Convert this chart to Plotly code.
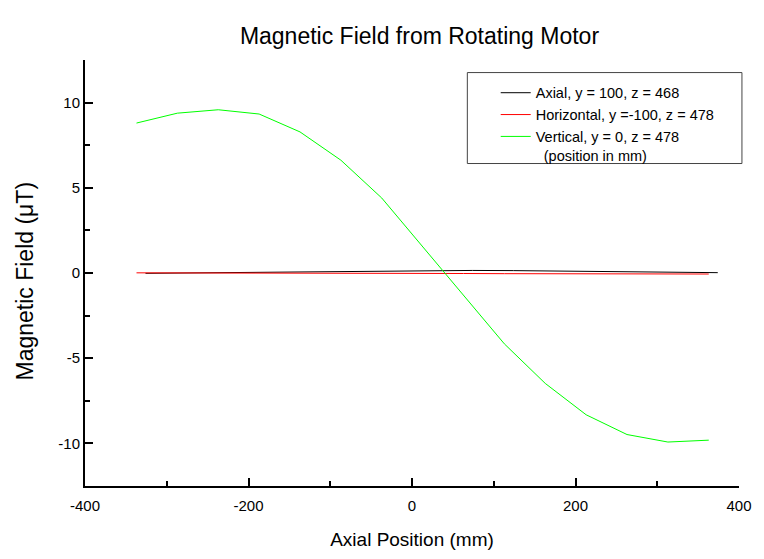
import plotly.graph_objects as go

# Data
x_axial = [-326, -276, -226, -176, -126, -76, -26, 24, 74, 124, 174, 224, 274, 324, 374]
b_axial = [-0.02, 0.00, 0.03, 0.06, 0.09, 0.12, 0.14, 0.15, 0.15, 0.14, 0.12, 0.10, 0.07, 0.04, 0.02]

x_horiz = [-337, -287, -237, -187, -137, -87, -37, 13, 63, 113, 163, 213, 263, 313, 363]
b_horiz = [0.01, 0.01, 0.00, 0.00, -0.01, -0.02, -0.02, -0.03, -0.03, -0.04, -0.04, -0.05, -0.05, -0.06, -0.06]

x_vert = [-337, -287, -237, -187, -137, -87, -37, 13, 63, 113, 163, 213, 263, 313, 363]
b_vert = [8.80, 9.38, 9.58, 9.33, 8.28, 6.62, 4.40, 1.55, -1.35, -4.16, -6.48, -8.32, -9.48, -9.92, -9.81]

names = ["Axial, y = 100, z = 468", "Horizontal, y =-100, z = 478", "Vertical, y = 0, z = 478"]
note = "\u00a0\u00a0(position in mm)"

x_ticks = [-400, -200, 0, 200, 400]
y_ticks = [-10, -5, 0, 5, 10]

FONT = "Liberation Sans, Arial, sans-serif"

fig = go.Figure()
fig.add_trace(go.Scatter(x=x_axial, y=b_axial, mode="lines", name=names[0],
                         line=dict(color="#000000", width=1)))
fig.add_trace(go.Scatter(x=x_horiz, y=b_horiz, mode="lines", name=names[1],
                         line=dict(color="#FF0000", width=1)))
fig.add_trace(go.Scatter(x=x_vert, y=b_vert, mode="lines", name=names[2] + "<br>" + note,
                         line=dict(color="#00FF00", width=1)))

# legend frame
fig.add_shape(type="rect", xref="paper", yref="paper",
              x0=0.5846, x1=1.0045, y0=0.757, y1=0.9705,
              line=dict(color="#444444", width=1), fillcolor="rgba(0,0,0,0)", layer="above")

# y-axis title (placed as a rotated annotation to match the original position)
fig.add_annotation(text="Magnetic Field (μT)", xref="paper", yref="paper",
                   x=0, y=0.48, xanchor="center", yanchor="middle", xshift=-60,
                   textangle=-90, showarrow=False, font=dict(size=23, family=FONT, color="black"))

# The page body adds an 8px offset, so the figure is sized 8px smaller.
fig.update_layout(
    width=756, height=551,
    margin=dict(l=77, r=17, t=52, b=68),
    paper_bgcolor="white", plot_bgcolor="white",
    font=dict(family=FONT, color="black"),
    title=dict(text="Magnetic Field from Rotating Motor", x=0.5443, xanchor="center",
               y=0.949, yanchor="middle", font=dict(size=23, family=FONT)),
    legend=dict(x=0.628, y=0.9606, xanchor="left", yanchor="top", valign="top",
                borderwidth=0, bgcolor="rgba(0,0,0,0)",
                font=dict(size=14.5, family=FONT), tracegroupgap=0, itemwidth=30),
    showlegend=True,
)
fig.update_xaxes(
    range=[-400, 400], tickvals=x_ticks, ticktext=[str(v) for v in x_ticks],
    showline=True, linecolor="black", linewidth=2, mirror=False,
    ticks="inside", ticklen=8, tickwidth=1.5, tickcolor="black",
    minor=dict(ticks="inside", ticklen=5, tickwidth=1.5, tickcolor="black", dtick=100, tick0=0),
    showgrid=False, zeroline=False, ticklabelstandoff=5,
    tickfont=dict(size=15, family=FONT),
    title=dict(text="Axial Position (mm)", font=dict(size=19, family=FONT), standoff=20),
)
fig.update_yaxes(
    range=[-12.5, 12.5], tickvals=y_ticks, ticktext=[str(v) for v in y_ticks],
    showline=True, linecolor="black", linewidth=2, mirror=False,
    ticks="inside", ticklen=8, tickwidth=1.5, tickcolor="black",
    minor=dict(ticks="inside", ticklen=5, tickwidth=1.5, tickcolor="black", dtick=2.5, tick0=0),
    showgrid=False, zeroline=False,
    tickfont=dict(size=15, family=FONT),
)

fig.write_html("out.html")
